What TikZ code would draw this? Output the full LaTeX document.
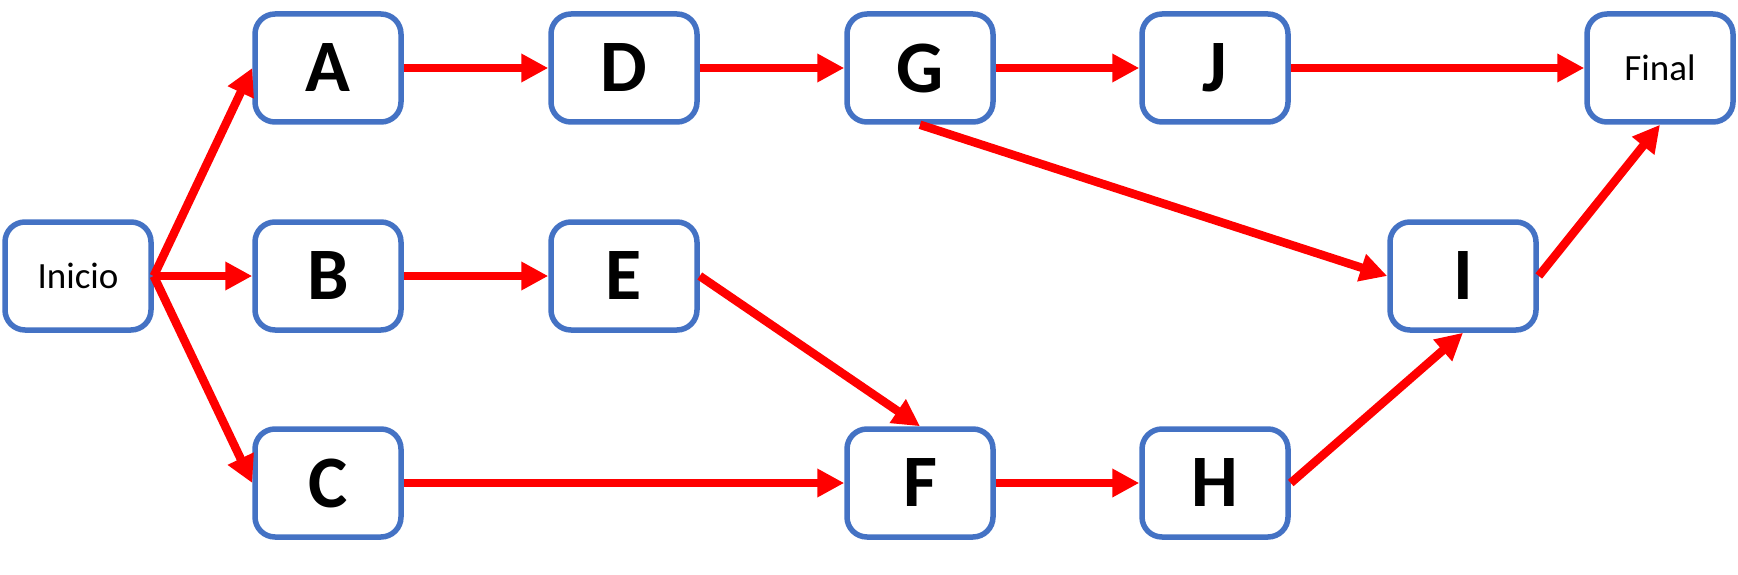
\documentclass[tikz,border=0pt]{standalone}
\usepackage{fontspec}
\setmainfont{Carlito}
\usetikzlibrary{arrows.meta}
\definecolor{boxblue}{HTML}{4472C4}
\definecolor{arrred}{HTML}{FF0000}
\begin{document}
\begin{tikzpicture}[x=1pt,y=-1pt,
  tbox/.style={draw=boxblue, line width=5.5pt, rounded corners=20pt, fill=white,
    minimum width=146pt, minimum height=108pt, inner sep=0pt, align=center},
  big/.style={tbox, font=\fontsize{74}{80}\selectfont\bfseries},
  small/.style={tbox, font=\fontsize{37}{42}\selectfont},
  conn/.style={draw=arrred, line width=8.5pt, -{Triangle[length=27pt,width=27pt]}}]
\useasboundingbox (0,0) rectangle (1738,575);
\node[small] (ini) at (78,276) {Inicio};
\node[big] (A) at (328,68) {A};
\node[big] (B) at (328,276) {B};
\node[big] (C) at (328,483) {C};
\node[big] (D) at (624,68) {D};
\node[big] (E) at (624,276) {E};
\node[big] (G) at (920,68) {G};
\node[big] (F) at (920,483) {F};
\node[big] (J) at (1215,68) {J};
\node[big] (H) at (1215,483) {H};
\node[big] (I) at (1463,276) {I};
\node[small] (fin) at (1660,68) {Final};
\draw[conn] (ini.east) -- (A.west);
\draw[conn] (ini.east) -- (B.west);
\draw[conn] (ini.east) -- (C.west);
\draw[conn] (A.east) -- (D.west);
\draw[conn] (D.east) -- (G.west);
\draw[conn] (G.east) -- (J.west);
\draw[conn] (J.east) -- (fin.west);
\draw[conn] (B.east) -- (E.west);
\draw[conn] (C.east) -- (F.west);
\draw[conn] (F.east) -- (H.west);
\draw[conn] (G.south) -- (I.west);
\draw[conn] (E.east) -- (F.north);
\draw[conn] (H.east) -- (I.south);
\draw[conn] (I.east) -- (fin.south);
\end{tikzpicture}
\end{document}
